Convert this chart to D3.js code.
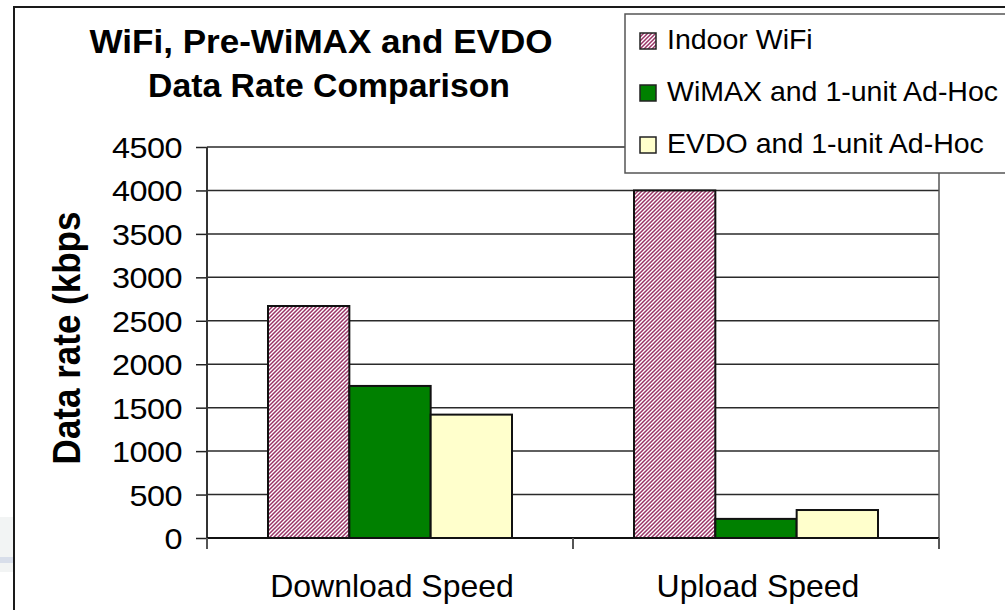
<!DOCTYPE html>
<html>
<head>
<meta charset="utf-8">
<script src="https://cdn.jsdelivr.net/npm/d3@7"></script>
<style>
  html, body { margin: 0; padding: 0; background: #fff; }
  svg { display: block; }
  text { font-family: "Liberation Sans", Arial, sans-serif; fill: #000; }
</style>
</head>
<body>
<div id="chart"></div>
<script>
// ── Data ──────────────────────────────────────────────
const categories = ["Download Speed", "Upload Speed"];
const seriesNames = ["Indoor WiFi", "WiMAX and 1-unit Ad-Hoc", "EVDO and 1-unit Ad-Hoc"];
const wifiValues  = [2670, 4000];
const wimaxValues = [1750, 220];
const evdoValues  = [1420, 322];
const yTicks = [0, 500, 1000, 1500, 2000, 2500, 3000, 3500, 4000, 4500];
const titleLines = ["WiFi, Pre-WiMAX and EVDO", "Data Rate Comparison"];
const yTitle = "Data rate (kbps";

const seriesValues = [wifiValues, wimaxValues, evdoValues];
const fills = ["url(#wifiHatch)", "#008000", "#ffffcc"];

function drawChart() {
    const width = 1005, height = 610;
    const plot = { left: 207, right: 939, top: 147, bottom: 538 };

    const svg = d3.select("#chart").append("svg")
        .attr("width", width).attr("height", height);

    // hatch pattern for the WiFi series
    const pat = svg.append("defs").append("pattern")
        .attr("id", "wifiHatch").attr("patternUnits", "userSpaceOnUse")
        .attr("width", 4).attr("height", 4);
    pat.append("rect").attr("width", 4).attr("height", 4).attr("fill", "#fff");
    pat.append("path").attr("d", "M-1,1 l2,-2 M0,4 l4,-4 M3,5 l2,-2")
        .attr("stroke", "#993366").attr("stroke-width", 1.5);

    // stray background bits at far left + outer frame
    svg.append("rect").attr("x", 0).attr("y", 517).attr("width", 13).attr("height", 55).attr("fill", "#f2f4f4");
    svg.append("rect").attr("x", 0).attr("y", 557).attr("width", 13).attr("height", 6).attr("fill", "#d8deea");
    svg.append("path").attr("d", "M14,610 V7 H1005")
        .attr("fill", "none").attr("stroke", "#1a1a1a").attr("stroke-width", 2);

    const x = d3.scaleBand().domain(categories).range([plot.left, plot.right]).padding(0);
    const xInner = d3.scaleBand().domain(seriesNames).range([0, x.bandwidth()])
        .paddingInner(0).paddingOuter(0.75);
    const y = d3.scaleLinear().domain([0, 4500]).range([plot.bottom, plot.top]);

    // gridlines
    svg.append("g").selectAll("line").data(yTicks.filter(d => d > 0)).join("line")
        .attr("x1", plot.left).attr("x2", plot.right)
        .attr("y1", d => y(d)).attr("y2", d => y(d))
        .attr("stroke", "#2a2a2a").attr("stroke-width", 1.5);

    // right border of plot area
    svg.append("line").attr("x1", plot.right).attr("x2", plot.right)
        .attr("y1", plot.top).attr("y2", plot.bottom)
        .attr("stroke", "#555").attr("stroke-width", 1.5);

    // bars
    const groups = svg.append("g").selectAll("g").data(categories).join("g")
        .attr("transform", d => `translate(${x(d)},0)`);
    groups.selectAll("rect")
        .data((c, ci) => seriesNames.map((s, si) => ({ s, si, v: seriesValues[si][ci] })))
        .join("rect")
        .attr("x", d => xInner(d.s))
        .attr("width", xInner.bandwidth())
        .attr("y", d => y(d.v))
        .attr("height", d => y(0) - y(d.v))
        .attr("fill", d => fills[d.si])
        .attr("stroke", "#111").attr("stroke-width", 2);

    // y axis
    const yAxis = d3.axisLeft(y).tickValues(yTicks).tickSize(11).tickFormat("");
    const ya = svg.append("g").attr("transform", `translate(${plot.left},0)`).call(yAxis);
    ya.select(".domain").remove();
    ya.selectAll(".tick line").attr("stroke", "#222").attr("stroke-width", 1.5);
    svg.append("line").attr("x1", plot.left).attr("x2", plot.left)
        .attr("y1", plot.top).attr("y2", plot.bottom + 11)
        .attr("stroke", "#333").attr("stroke-width", 2);

    // tick labels (source is slightly stretched horizontally)
    svg.append("g").selectAll("text").data(yTicks).join("text")
        .attr("transform", d => `translate(182,${y(d) + 11}) scale(1.08,1)`)
        .attr("text-anchor", "end")
        .style("font-size", "30px").style("letter-spacing", "-0.5px")
        .text(d => d);

    // x axis line + category ticks
    svg.append("line").attr("x1", plot.left).attr("x2", plot.right)
        .attr("y1", plot.bottom).attr("y2", plot.bottom)
        .attr("stroke", "#111").attr("stroke-width", 2);
    const catEdges = categories.map(c => x(c)).concat([plot.right]);
    svg.append("g").selectAll("line").data(catEdges).join("line")
        .attr("x1", d => d).attr("x2", d => d)
        .attr("y1", plot.bottom).attr("y2", plot.bottom + 11)
        .attr("stroke", "#555").attr("stroke-width", 2);

    svg.append("g").selectAll("text").data(categories).join("text")
        .attr("x", d => x(d) + x.bandwidth() / 2 + 2)
        .attr("y", 597)
        .attr("text-anchor", "middle")
        .style("font-size", "32px")
        .text(d => d);

    // axis title
    svg.append("text")
        .attr("transform", "translate(80,338) scale(1.1,1) rotate(-90)")
        .attr("text-anchor", "middle")
        .style("font-size", "35px").style("font-weight", "bold")
        .text(yTitle);

    // chart title
    svg.append("text").attr("x", 321).attr("y", 53).attr("text-anchor", "middle")
        .attr("textLength", 463).attr("lengthAdjust", "spacingAndGlyphs")
        .style("font-size", "32.5px").style("font-weight", "bold").text(titleLines[0]);
    svg.append("text").attr("x", 329).attr("y", 97).attr("text-anchor", "middle")
        .attr("textLength", 362).attr("lengthAdjust", "spacingAndGlyphs")
        .style("font-size", "32.5px").style("font-weight", "bold").text(titleLines[1]);

    // legend
    const legend = svg.append("g");
    legend.append("rect").attr("x", 625).attr("y", 14).attr("width", 400).attr("height", 159)
        .attr("fill", "#fff").attr("stroke", "#555").attr("stroke-width", 1.5);
    seriesNames.forEach((s, i) => {
        const row = legend.append("g").attr("transform", `translate(640,${33 + i * 52})`);
        row.append("rect").attr("width", 16).attr("height", 16)
            .attr("fill", fills[i]).attr("stroke", "#222").attr("stroke-width", 1.5);
        row.append("text").attr("x", 27).attr("y", 16)
            .style("font-size", "28.5px").text(s);
    });
}

drawChart();
</script>
</body>
</html>
